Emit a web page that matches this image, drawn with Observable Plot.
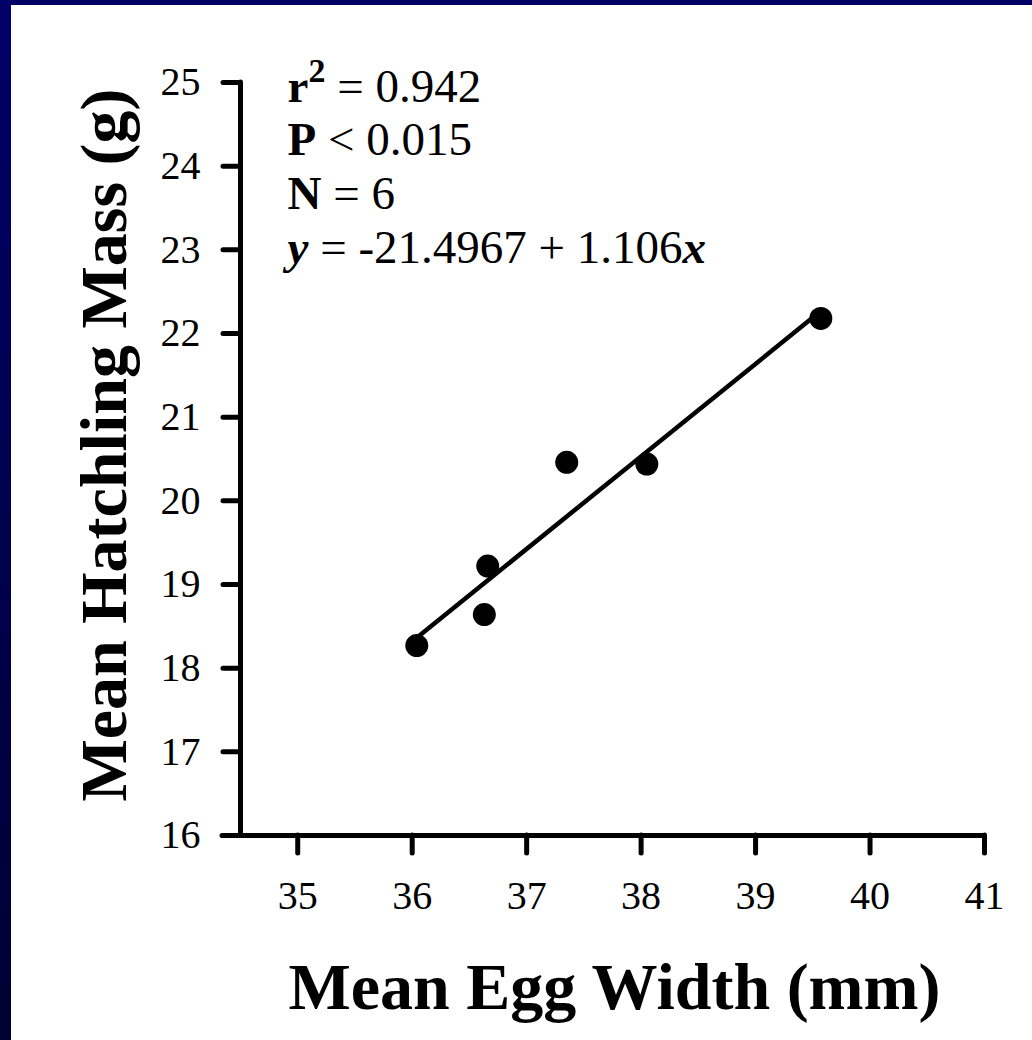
<!DOCTYPE html>
<html><head><meta charset="utf-8">
<script src="https://cdn.jsdelivr.net/npm/d3@7"></script>
<script src="https://cdn.jsdelivr.net/npm/@observablehq/plot@0.6"></script>
<style>
html,body{margin:0;padding:0;background:#fff;width:1032px;height:1040px;overflow:hidden;}
#wrap{position:relative;width:1032px;height:1040px;}
#chart{position:absolute;left:0;top:0;}
#bandTop{position:absolute;left:0;top:0;width:1032px;height:5px;background:#000066;}
#bandLeft{position:absolute;left:0;top:0;width:11px;height:1040px;background:linear-gradient(#000068,#000033);}
</style></head>
<body><div id="wrap"><div id="chart"></div><div id="bandTop"></div><div id="bandLeft"></div></div>
<script>
// Data
const eggWidth = [36.04, 36.63, 36.66, 37.35, 38.05, 39.57];
const hatchMass = [18.27, 18.64, 19.22, 20.46, 20.44, 22.18];
const xTicks = [35, 36, 37, 38, 39, 40, 41];
const yTicks = [16, 17, 18, 19, 20, 21, 22, 23, 24, 25];
const xDomain = [34.5, 41];
const yDomain = [16, 25];
const fitIntercept = -21.4967;
const fitSlope = 1.106;
const xTitle = "Mean Egg Width (mm)";
const yTitle = "Mean Hatchling Mass (g)";
const statLines = [
  [{t: "r", b: 1}, {t: "2", b: 1, sup: 1}, {t: " = 0.942"}],
  [{t: "P", b: 1}, {t: " < 0.015"}],
  [{t: "N", b: 1}, {t: " = 6"}],
  [{t: "y", b: 1, i: 1}, {t: " = -21.4967 + 1.106"}, {t: "x", b: 1, i: 1}]
];

const points = eggWidth.map((x, i) => ({x, y: hatchMass[i]}));
const [xmin, xmax] = d3.extent(eggWidth);
const fitLine = [xmin, xmax].map(x => ({x, y: fitIntercept + fitSlope * x}));
const plain = line => line.map(s => s.t).join("");

const serif = "'Liberation Serif', 'Times New Roman', Times, serif";

const chart = Plot.plot({
  width: 1032,
  height: 1040,
  marginLeft: 240,
  marginRight: 48,
  marginTop: 82,
  marginBottom: 205,
  style: {fontFamily: serif, fontSize: "40px", background: "#fff", color: "#000"},
  x: {domain: xDomain, axis: null},
  y: {domain: yDomain, axis: null},
  marks: [
    Plot.axisX({ticks: xTicks, tickSize: 18, tickPadding: 27, fontSize: 40, strokeWidth: 5, strokeLinecap: "round", label: null, tickFormat: d => String(d)}),
    Plot.axisY({ticks: yTicks, tickSize: 17, tickPadding: 23, fontSize: 40, strokeWidth: 5, strokeLinecap: "round", label: null, tickFormat: d => String(d)}),
    Plot.ruleY([yDomain[0]], {insetLeft: -18, strokeWidth: 5, strokeLinecap: "round"}),
    Plot.ruleX([xDomain[0]], {strokeWidth: 5, strokeLinecap: "round"}),
    Plot.line(fitLine, {x: "x", y: "y", strokeWidth: 4.5, stroke: "#000"}),
    Plot.dot(points, {x: "x", y: "y", r: 11.5, fill: "#000"}),
    ...statLines.map((line, i) => Plot.text([line], {
      frameAnchor: "top-left", dx: 47, dy: 19 + i * 53.7, lineAnchor: "bottom",
      textAnchor: "start", text: d => plain(d), fontSize: 47, fill: "#000"
    })),
    Plot.text([xTitle], {frameAnchor: "bottom", dx: 2, dy: 173, lineAnchor: "bottom", textAnchor: "middle", text: d => d, fontSize: 66, fontWeight: "bold", fill: "#000"}),
    Plot.text([yTitle], {frameAnchor: "left", dx: -115, dy: -14, rotate: -90, lineAnchor: "bottom", textAnchor: "middle", text: d => d, fontSize: 66, fontWeight: "bold", fill: "#000"})
  ]
});

// Rich formatting of the statistics lines
const texts = Array.from(chart.querySelectorAll("text"));
statLines.forEach(line => {
  const el = texts.find(t => t.textContent === plain(line));
  if (!el) return;
  el.textContent = "";
  let shift = 0;
  line.forEach(seg => {
    const ts = document.createElementNS("http://www.w3.org/2000/svg", "tspan");
    ts.textContent = seg.t;
    if (seg.b) ts.setAttribute("font-weight", "bold");
    if (seg.i) ts.setAttribute("font-style", "italic");
    const target = seg.sup ? -20 : 0;
    if (target !== shift) { ts.setAttribute("dy", String(target - shift)); shift = target; }
    if (seg.sup) ts.setAttribute("font-size", "34");
    el.appendChild(ts);
  });
});

document.getElementById("chart").appendChild(chart);
</script>
</body></html>
